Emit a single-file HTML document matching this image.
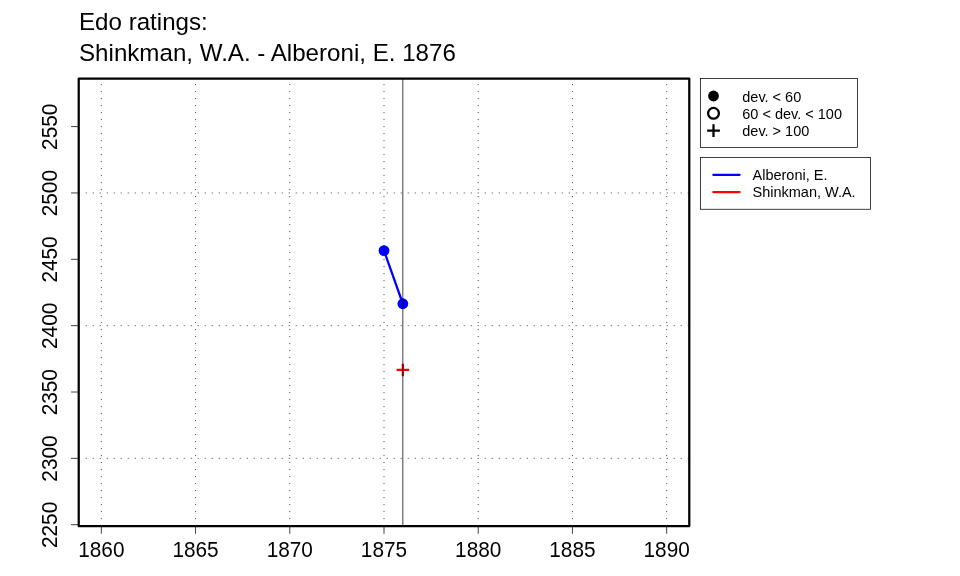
<!DOCTYPE html>
<html lang="en"><head><meta charset="utf-8"><title>Edo ratings: Shinkman, W.A. - Alberoni, E. 1876</title>
<style>html,body{margin:0;padding:0;background:#fff;}body{width:960px;height:576px;overflow:hidden;}svg{display:block;}text{font-family:"Liberation Sans",Arial,Helvetica,sans-serif;fill:#000;}</style></head><body>
<svg width="960" height="576" viewBox="0 0 960 576">
<rect x="0" y="0" width="960" height="576" fill="#fff"/>
<text x="79.02" y="30" font-size="24.13">Edo ratings:</text>
<text x="79.02" y="60.7" font-size="24.13">Shinkman, W.A. - Alberoni, E. 1876</text>
<g stroke="#000" stroke-width="0.75" stroke-dasharray="1 6" fill="none">
<line x1="101.33" y1="526.08" x2="101.33" y2="78.72"/>
<line x1="195.56" y1="526.08" x2="195.56" y2="78.72"/>
<line x1="289.78" y1="526.08" x2="289.78" y2="78.72"/>
<line x1="384.00" y1="526.08" x2="384.00" y2="78.72"/>
<line x1="478.22" y1="526.08" x2="478.22" y2="78.72"/>
<line x1="572.44" y1="526.08" x2="572.44" y2="78.72"/>
<line x1="666.67" y1="526.08" x2="666.67" y2="78.72"/>
<line x1="78.72" y1="458.35" x2="689.28" y2="458.35"/>
<line x1="78.72" y1="325.65" x2="689.28" y2="325.65"/>
<line x1="78.72" y1="192.95" x2="689.28" y2="192.95"/>
</g>
<g stroke="#000" stroke-width="0.75" fill="none">
<line x1="101.33" y1="526.08" x2="101.33" y2="533.76"/>
<line x1="195.56" y1="526.08" x2="195.56" y2="533.76"/>
<line x1="289.78" y1="526.08" x2="289.78" y2="533.76"/>
<line x1="384.00" y1="526.08" x2="384.00" y2="533.76"/>
<line x1="478.22" y1="526.08" x2="478.22" y2="533.76"/>
<line x1="572.44" y1="526.08" x2="572.44" y2="533.76"/>
<line x1="666.67" y1="526.08" x2="666.67" y2="533.76"/>
<line x1="78.72" y1="524.70" x2="71.04" y2="524.70"/>
<line x1="78.72" y1="458.35" x2="71.04" y2="458.35"/>
<line x1="78.72" y1="392.00" x2="71.04" y2="392.00"/>
<line x1="78.72" y1="325.65" x2="71.04" y2="325.65"/>
<line x1="78.72" y1="259.30" x2="71.04" y2="259.30"/>
<line x1="78.72" y1="192.95" x2="71.04" y2="192.95"/>
<line x1="78.72" y1="126.60" x2="71.04" y2="126.60"/>
</g>
<g font-size="20.8" text-anchor="middle">
<text transform="translate(101.33 556.8) scale(1 1.045)">1860</text>
<text transform="translate(195.56 556.8) scale(1 1.045)">1865</text>
<text transform="translate(289.78 556.8) scale(1 1.045)">1870</text>
<text transform="translate(384.00 556.8) scale(1 1.045)">1875</text>
<text transform="translate(478.22 556.8) scale(1 1.045)">1880</text>
<text transform="translate(572.44 556.8) scale(1 1.045)">1885</text>
<text transform="translate(666.67 556.8) scale(1 1.045)">1890</text>
<text transform="translate(56.8 524.90) rotate(-90) scale(1 1.06)">2250</text>
<text transform="translate(56.8 458.55) rotate(-90) scale(1 1.06)">2300</text>
<text transform="translate(56.8 392.20) rotate(-90) scale(1 1.06)">2350</text>
<text transform="translate(56.8 325.85) rotate(-90) scale(1 1.06)">2400</text>
<text transform="translate(56.8 259.50) rotate(-90) scale(1 1.06)">2450</text>
<text transform="translate(56.8 193.15) rotate(-90) scale(1 1.06)">2500</text>
<text transform="translate(56.8 126.80) rotate(-90) scale(1 1.06)">2550</text>
</g>
<line x1="384.00" y1="250.6" x2="402.84" y2="303.75" stroke="#0000ff" stroke-width="2.25" stroke-linecap="round"/>
<circle cx="384.00" cy="250.6" r="5.4" fill="#0000ff"/>
<circle cx="402.84" cy="303.75" r="5.4" fill="#0000ff"/>
<path d="M396.59 369.9H409.09M402.84 363.65V376.15" stroke="#ff0000" stroke-width="2.25" fill="none"/>
<line x1="402.84" y1="78.72" x2="402.84" y2="526.08" stroke="#000" stroke-width="0.75"/>
<rect x="78.72" y="78.72" width="610.56" height="447.36" fill="none" stroke="#000" stroke-width="2.25" stroke-linejoin="round"/>
<rect x="700.6" y="78.5" width="156.9" height="68.9" fill="#fff" stroke="#000" stroke-width="0.75"/>
<circle cx="713.5" cy="96" r="5.4" fill="#000"/>
<circle cx="713.5" cy="113.3" r="5.4" fill="none" stroke="#000" stroke-width="2.25"/>
<path d="M707.1 130.6H719.9M713.5 124.2V137" stroke="#000" stroke-width="2.25" fill="none"/>
<g font-size="14.5">
<text x="742.25" y="101.8">dev. &lt; 60</text>
<text x="742.25" y="119.1">60 &lt; dev. &lt; 100</text>
<text x="742.25" y="136.4">dev. &gt; 100</text>
</g>
<rect x="700.6" y="157.6" width="169.8" height="51.65" fill="#fff" stroke="#000" stroke-width="0.75"/>
<line x1="713.3" y1="174.75" x2="739.6" y2="174.75" stroke="#0000ff" stroke-width="2.25" stroke-linecap="round"/>
<line x1="713.3" y1="192" x2="739.6" y2="192" stroke="#ff0000" stroke-width="2.25" stroke-linecap="round"/>
<g font-size="14.5">
<text x="752.5" y="180.1">Alberoni, E.</text>
<text x="752.5" y="197.35">Shinkman, W.A.</text>
</g>
</svg></body></html>
